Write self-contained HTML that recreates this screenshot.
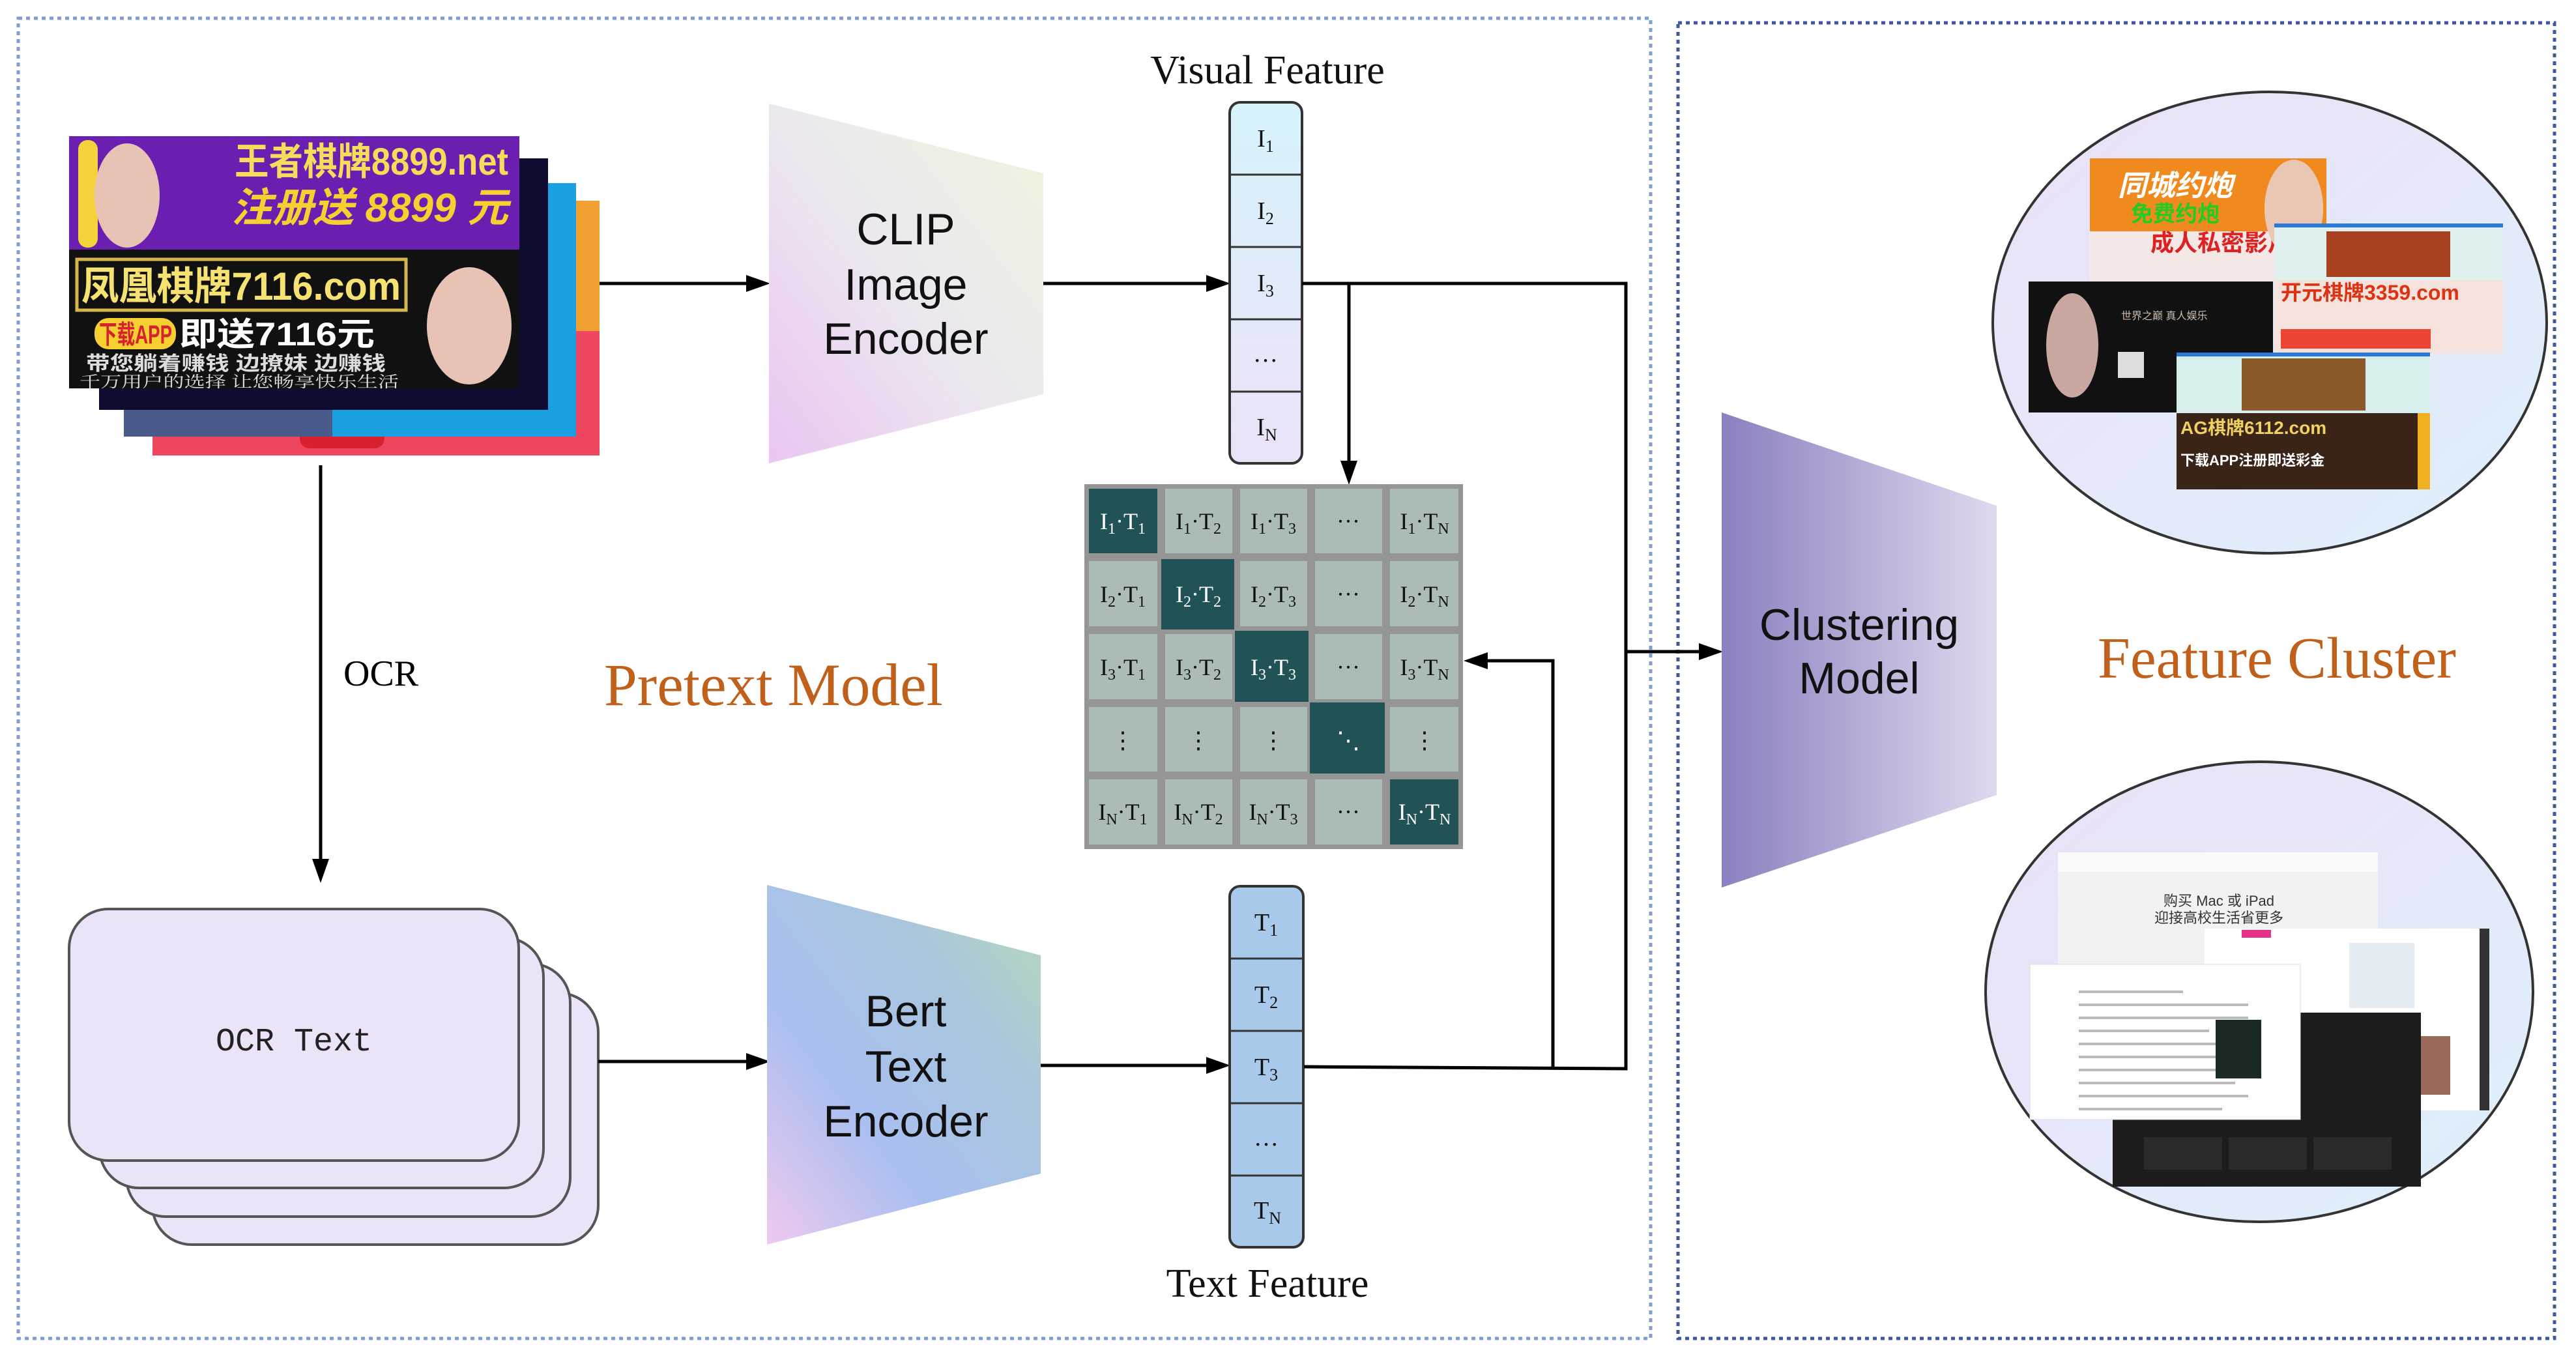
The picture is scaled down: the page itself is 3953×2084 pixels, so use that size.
<!DOCTYPE html>
<html><head><meta charset="utf-8"><style>
html,body{margin:0;padding:0;background:#fff;}
svg{display:block;}
</style></head><body>
<svg xmlns="http://www.w3.org/2000/svg" width="3953" height="2084" viewBox="0 0 3953 2084">
<defs>
<linearGradient id="gclip" x1="0" y1="1" x2="1" y2="0">
<stop offset="0" stop-color="#eac6f2"/><stop offset="0.5" stop-color="#ece8ef"/><stop offset="1" stop-color="#eef6dc"/></linearGradient>
<linearGradient id="gbert" x1="0" y1="1" x2="1" y2="0">
<stop offset="0" stop-color="#efc9ef"/><stop offset="0.35" stop-color="#a9bff0"/><stop offset="0.7" stop-color="#a9c6dc"/><stop offset="1" stop-color="#b8dcb8"/></linearGradient>
<linearGradient id="gclu" x1="0" y1="0" x2="1" y2="0">
<stop offset="0" stop-color="#8c7fbf"/><stop offset="1" stop-color="#e0d9ee"/></linearGradient>
<linearGradient id="gvis" x1="0" y1="0" x2="0" y2="1">
<stop offset="0" stop-color="#d6f3fb"/><stop offset="1" stop-color="#ebe2f7"/></linearGradient>
<linearGradient id="gell" x1="0" y1="0" x2="1" y2="1">
<stop offset="0" stop-color="#ece0f6"/><stop offset="1" stop-color="#ddf0fb"/></linearGradient>
</defs>

<rect x="28" y="28" width="2505" height="2026" fill="none" stroke="#7f9fd3" stroke-width="5" stroke-dasharray="6 6"/>
<rect x="2575" y="35" width="1345" height="2019" fill="none" stroke="#3d5aa0" stroke-width="5" stroke-dasharray="6 6"/>

<!-- ad image stack -->
<rect x="234" y="308" width="686" height="391" fill="#ef4660"/>
<rect x="860" y="308" width="60" height="200" fill="#f0a030"/>
<rect x="460" y="650" width="130" height="38" rx="15" fill="#d8202e"/>
<rect x="190" y="281" width="694" height="389" fill="#1aa0e0"/>
<rect x="190" y="560" width="320" height="110" fill="#4a5a8a"/>
<rect x="152" y="243" width="689" height="386" fill="#0e0c30"/>
<rect x="106" y="209" width="691" height="174" fill="#6a1fb0"/>
<rect x="106" y="383" width="691" height="213" fill="#111"/>
<rect x="120" y="215" width="30" height="165" rx="14" fill="#f3d23c"/>
<ellipse cx="195" cy="300" rx="50" ry="80" fill="#e8c3b5"/>
<ellipse cx="720" cy="500" rx="65" ry="90" fill="#e8c3b5"/>
<text x="360" y="268" font-family="'Liberation Sans','Noto Sans CJK SC',sans-serif" font-size="58" font-weight="bold" fill="#f5dc5a" textLength="420" lengthAdjust="spacingAndGlyphs">王者棋牌8899.net</text>
<text x="355" y="340" font-family="'Liberation Sans','Noto Sans CJK SC',sans-serif" font-size="62" font-weight="bold" font-style="italic" fill="#f5d030" textLength="425" lengthAdjust="spacingAndGlyphs">注册送 8899 元</text>
<rect x="118" y="398" width="505" height="78" fill="none" stroke="#d8b548" stroke-width="5"/>
<text x="125" y="460" font-family="'Liberation Sans','Noto Sans CJK SC',sans-serif" font-size="60" font-weight="bold" fill="#f5e270" textLength="490" lengthAdjust="spacingAndGlyphs">凤凰棋牌7116.com</text>
<rect x="145" y="488" width="125" height="48" rx="22" fill="#f5d030"/>
<text x="152" y="527" font-family="'Liberation Sans','Noto Sans CJK SC',sans-serif" font-size="40" font-weight="bold" fill="#d8202e" textLength="112" lengthAdjust="spacingAndGlyphs">下载APP</text>
<text x="275" y="530" font-family="'Liberation Sans','Noto Sans CJK SC',sans-serif" font-size="50" font-weight="bold" fill="#fff" textLength="300" lengthAdjust="spacingAndGlyphs">即送7116元</text>
<text x="132" y="568" font-family="'Liberation Sans','Noto Sans CJK SC',sans-serif" font-size="30" font-weight="bold" fill="#ddd" textLength="460" lengthAdjust="spacingAndGlyphs">带您躺着赚钱 边撩妹 边赚钱</text>
<text x="122" y="594" font-family="'Liberation Serif','Noto Serif CJK SC',serif" font-size="24" fill="#ddd" textLength="490" lengthAdjust="spacingAndGlyphs">千万用户的选择 让您畅享快乐生活</text>

<line x1="492" y1="714" x2="492" y2="1322" stroke="#000" stroke-width="5"/>
<polygon points="492,1355 479,1318 505,1318" fill="#000"/>
<text x="527" y="1052" font-family="'Liberation Serif',serif" font-size="56" fill="#000">OCR</text>

<g fill="#ebe3f8" stroke="#555" stroke-width="4">
<rect x="234" y="1524" width="684" height="386" rx="60"/>
<rect x="194" y="1479" width="681" height="388" rx="60"/>
<rect x="153" y="1439" width="681" height="384" rx="60"/>
<rect x="106" y="1395" width="690" height="386" rx="60"/>
</g>
<text x="451" y="1612" text-anchor="middle" font-family="'Liberation Mono',monospace" font-size="50" fill="#222">OCR Text</text>

<line x1="920" y1="435" x2="1150" y2="435" stroke="#000" stroke-width="5"/>
<polygon points="1182,435 1145,422 1145,448" fill="#000"/>
<line x1="918" y1="1629" x2="1150" y2="1629" stroke="#000" stroke-width="5"/>
<polygon points="1182,1629 1145,1616 1145,1642" fill="#000"/>

<polygon points="1180,159 1601,266 1601,605 1180,711" fill="url(#gclip)"/>
<g font-family="'Liberation Sans',sans-serif" font-size="68" fill="#111" text-anchor="middle">
<text x="1390" y="375">CLIP</text>
<text x="1390" y="460">Image</text>
<text x="1390" y="543">Encoder</text>
</g>
<polygon points="1177,1358 1597,1466 1597,1801 1177,1910" fill="url(#gbert)"/>
<g font-family="'Liberation Sans',sans-serif" font-size="68" fill="#111" text-anchor="middle">
<text x="1390" y="1575">Bert</text>
<text x="1390" y="1660">Text</text>
<text x="1390" y="1744">Encoder</text>
</g>

<line x1="1601" y1="435" x2="1856" y2="435" stroke="#000" stroke-width="5"/>
<polygon points="1888,435 1851,422 1851,448" fill="#000"/>
<line x1="1597" y1="1635" x2="1856" y2="1635" stroke="#000" stroke-width="5"/>
<polygon points="1888,1635 1851,1622 1851,1648" fill="#000"/>

<text x="1945" y="128" text-anchor="middle" font-family="'Liberation Serif',serif" font-size="62" fill="#111">Visual Feature</text>
<rect x="1887" y="157" width="111" height="554" rx="16" fill="url(#gvis)" stroke="#333" stroke-width="4"/>
<g stroke="#333" stroke-width="3">
<line x1="1887" y1="268" x2="1998" y2="268"/><line x1="1887" y1="379" x2="1998" y2="379"/>
<line x1="1887" y1="490" x2="1998" y2="490"/><line x1="1887" y1="601" x2="1998" y2="601"/>
</g>
<g font-family="'Liberation Serif',serif" font-size="38" fill="#111" text-anchor="middle">
<text x="1942" y="225">I<tspan font-size="26" dy="8">1</tspan></text>
<text x="1942" y="336">I<tspan font-size="26" dy="8">2</tspan></text>
<text x="1942" y="447">I<tspan font-size="26" dy="8">3</tspan></text>
<text x="1942" y="555">…</text>
<text x="1944" y="668">I<tspan font-size="26" dy="8">N</tspan></text>
</g>

<rect x="1887" y="1360" width="113" height="554" rx="16" fill="#a8c9ea" stroke="#333" stroke-width="4"/>
<g stroke="#333" stroke-width="3">
<line x1="1887" y1="1471" x2="2000" y2="1471"/><line x1="1887" y1="1582" x2="2000" y2="1582"/>
<line x1="1887" y1="1693" x2="2000" y2="1693"/><line x1="1887" y1="1804" x2="2000" y2="1804"/>
</g>
<g font-family="'Liberation Serif',serif" font-size="38" fill="#111" text-anchor="middle">
<text x="1943" y="1428">T<tspan font-size="26" dy="8">1</tspan></text>
<text x="1943" y="1539">T<tspan font-size="26" dy="8">2</tspan></text>
<text x="1943" y="1650">T<tspan font-size="26" dy="8">3</tspan></text>
<text x="1943" y="1758">…</text>
<text x="1945" y="1870">T<tspan font-size="26" dy="8">N</tspan></text>
</g>
<text x="1945" y="1990" text-anchor="middle" font-family="'Liberation Serif',serif" font-size="62" fill="#111">Text Feature</text>

<polyline points="1998,435 2495,435 2495,1640 2001,1637" fill="none" stroke="#000" stroke-width="5"/>
<line x1="2070" y1="435" x2="2070" y2="712" stroke="#000" stroke-width="5"/>
<polygon points="2070,744 2057,707 2083,707" fill="#000"/>
<polyline points="2383,1638 2383,1014 2276,1014" fill="none" stroke="#000" stroke-width="5"/>
<polygon points="2246,1014 2283,1001 2283,1027" fill="#000"/>
<line x1="2495" y1="1000" x2="2612" y2="1000" stroke="#000" stroke-width="5"/>
<polygon points="2644,1000 2607,987 2607,1013" fill="#000"/>

<rect x="1664" y="743" width="581" height="560" fill="#959595"/>
<g fill="#abbbb8">
<rect x="1788" y="750" width="103" height="99"/><rect x="1903" y="750" width="103" height="99"/><rect x="2018" y="750" width="103" height="99"/><rect x="2133" y="750" width="105" height="99"/>
<rect x="1671" y="861" width="105" height="100"/><rect x="1903" y="861" width="103" height="100"/><rect x="2018" y="861" width="103" height="100"/><rect x="2133" y="861" width="105" height="100"/>
<rect x="1671" y="973" width="105" height="100"/><rect x="1788" y="973" width="103" height="100"/><rect x="2018" y="973" width="103" height="100"/><rect x="2133" y="973" width="105" height="100"/>
<rect x="1671" y="1085" width="105" height="99"/><rect x="1788" y="1085" width="103" height="99"/><rect x="1903" y="1085" width="103" height="99"/><rect x="2133" y="1085" width="105" height="99"/>
<rect x="1671" y="1196" width="105" height="100"/><rect x="1788" y="1196" width="103" height="100"/><rect x="1903" y="1196" width="103" height="100"/><rect x="2018" y="1196" width="103" height="100"/>
</g>
<g fill="#215256">
<rect x="1671" y="750" width="105" height="99"/>
<rect x="1782" y="858" width="112" height="108"/>
<rect x="1895" y="968" width="113" height="109"/>
<rect x="2010" y="1078" width="115" height="109"/>
<rect x="2133" y="1196" width="105" height="100"/>
</g>
<g font-family="'Liberation Serif',serif" font-size="36" text-anchor="middle" fill="#111">
<text x="1723" y="812" fill="#fff">I<tspan font-size="24" dy="7">1</tspan><tspan dy="-7">·T</tspan><tspan font-size="24" dy="7">1</tspan></text>
<text x="1839" y="812">I<tspan font-size="24" dy="7">1</tspan><tspan dy="-7">·T</tspan><tspan font-size="24" dy="7">2</tspan></text>
<text x="1954" y="812">I<tspan font-size="24" dy="7">1</tspan><tspan dy="-7">·T</tspan><tspan font-size="24" dy="7">3</tspan></text>
<text x="2069" y="812">···</text>
<text x="2186" y="812">I<tspan font-size="24" dy="7">1</tspan><tspan dy="-7">·T</tspan><tspan font-size="24" dy="7">N</tspan></text>
<text x="1723" y="924">I<tspan font-size="24" dy="7">2</tspan><tspan dy="-7">·T</tspan><tspan font-size="24" dy="7">1</tspan></text>
<text x="1839" y="924" fill="#fff">I<tspan font-size="24" dy="7">2</tspan><tspan dy="-7">·T</tspan><tspan font-size="24" dy="7">2</tspan></text>
<text x="1954" y="924">I<tspan font-size="24" dy="7">2</tspan><tspan dy="-7">·T</tspan><tspan font-size="24" dy="7">3</tspan></text>
<text x="2069" y="924">···</text>
<text x="2186" y="924">I<tspan font-size="24" dy="7">2</tspan><tspan dy="-7">·T</tspan><tspan font-size="24" dy="7">N</tspan></text>
<text x="1723" y="1036">I<tspan font-size="24" dy="7">3</tspan><tspan dy="-7">·T</tspan><tspan font-size="24" dy="7">1</tspan></text>
<text x="1839" y="1036">I<tspan font-size="24" dy="7">3</tspan><tspan dy="-7">·T</tspan><tspan font-size="24" dy="7">2</tspan></text>
<text x="1954" y="1036" fill="#fff">I<tspan font-size="24" dy="7">3</tspan><tspan dy="-7">·T</tspan><tspan font-size="24" dy="7">3</tspan></text>
<text x="2069" y="1036">···</text>
<text x="2186" y="1036">I<tspan font-size="24" dy="7">3</tspan><tspan dy="-7">·T</tspan><tspan font-size="24" dy="7">N</tspan></text>
<text x="1723" y="1148">⋮</text>
<text x="1839" y="1148">⋮</text>
<text x="1954" y="1148">⋮</text>
<text x="2069" y="1148" fill="#fff">⋱</text>
<text x="2186" y="1148">⋮</text>
<text x="1723" y="1258">I<tspan font-size="24" dy="7">N</tspan><tspan dy="-7">·T</tspan><tspan font-size="24" dy="7">1</tspan></text>
<text x="1839" y="1258">I<tspan font-size="24" dy="7">N</tspan><tspan dy="-7">·T</tspan><tspan font-size="24" dy="7">2</tspan></text>
<text x="1954" y="1258">I<tspan font-size="24" dy="7">N</tspan><tspan dy="-7">·T</tspan><tspan font-size="24" dy="7">3</tspan></text>
<text x="2069" y="1258">···</text>
<text x="2186" y="1258" fill="#fff">I<tspan font-size="24" dy="7">N</tspan><tspan dy="-7">·T</tspan><tspan font-size="24" dy="7">N</tspan></text>
</g>

<text x="1187" y="1082" text-anchor="middle" font-family="'Liberation Serif',serif" font-size="92" fill="#c0601a" textLength="520" lengthAdjust="spacingAndGlyphs">Pretext Model</text>

<polygon points="2642,633 3064,776 3064,1220 2642,1362" fill="url(#gclu)"/>
<g font-family="'Liberation Sans',sans-serif" font-size="68" fill="#111" text-anchor="middle">
<text x="2853" y="982">Clustering</text>
<text x="2853" y="1064">Model</text>
</g>

<text x="3494" y="1040" text-anchor="middle" font-family="'Liberation Serif',serif" font-size="90" fill="#c0601a" textLength="550" lengthAdjust="spacingAndGlyphs">Feature Cluster</text>

<ellipse cx="3483" cy="495" rx="425" ry="354" fill="url(#gell)" stroke="#333" stroke-width="4"/>
<rect x="3207" y="243" width="363" height="189" fill="#f08a1e"/>
<rect x="3207" y="355" width="300" height="77" fill="#f3e8e6"/>
<text x="3250" y="300" font-family="'Liberation Sans','Noto Sans CJK SC',sans-serif" font-size="44" font-weight="bold" font-style="italic" fill="#fff">同城约炮</text>
<text x="3270" y="340" font-family="'Liberation Sans','Noto Sans CJK SC',sans-serif" font-size="34" font-weight="bold" fill="#2c2">免费约炮</text>
<text x="3300" y="385" font-family="'Liberation Sans','Noto Sans CJK SC',sans-serif" font-size="36" font-weight="bold" fill="#d22">成人私密影片</text>
<ellipse cx="3520" cy="320" rx="45" ry="75" fill="#e9c7b2"/>
<rect x="3490" y="343" width="351" height="200" fill="#dff0ee"/>
<rect x="3490" y="343" width="351" height="6" fill="#2a78d8"/>
<rect x="3570" y="355" width="190" height="70" fill="#a8411e"/>
<rect x="3490" y="430" width="351" height="113" fill="#f6e2dc"/>
<text x="3500" y="460" font-family="'Liberation Sans','Noto Sans CJK SC',sans-serif" font-size="32" font-weight="bold" fill="#d31">开元棋牌3359.com</text>
<rect x="3500" y="505" width="230" height="30" fill="#e43"/>
<rect x="3113" y="432" width="375" height="201" fill="#111"/>
<ellipse cx="3180" cy="530" rx="40" ry="80" fill="#c9a7a0"/>
<text x="3255" y="490" font-family="'Liberation Sans','Noto Sans CJK SC',sans-serif" font-size="16" fill="#cba">世界之巅 真人娱乐</text>
<rect x="3250" y="540" width="40" height="40" fill="#ddd"/>
<rect x="3340" y="541" width="389" height="210" fill="#d6efec"/>
<rect x="3340" y="541" width="389" height="6" fill="#2a78d8"/>
<rect x="3440" y="550" width="190" height="80" fill="#8a5a2a"/>
<rect x="3340" y="634" width="389" height="117" fill="#3a2418"/>
<text x="3346" y="666" font-family="'Liberation Sans','Noto Sans CJK SC',sans-serif" font-size="28" font-weight="bold" fill="#f0d060">AG棋牌6112.com</text>
<text x="3346" y="714" font-family="'Liberation Sans','Noto Sans CJK SC',sans-serif" font-size="22" font-weight="bold" fill="#fff">下载APP注册即送彩金</text>
<rect x="3710" y="634" width="19" height="117" fill="#f0b020"/>

<ellipse cx="3467" cy="1522" rx="420" ry="353" fill="url(#gell)" stroke="#333" stroke-width="4"/>
<rect x="3158" y="1308" width="491" height="182" fill="#f2f2f2"/>
<rect x="3158" y="1308" width="491" height="30" fill="#fafafa"/>
<text x="3405" y="1390" text-anchor="middle" font-family="'Liberation Sans','Noto Sans CJK SC',sans-serif" font-size="22" fill="#333">购买 Mac 或 iPad</text>
<text x="3405" y="1416" text-anchor="middle" font-family="'Liberation Sans','Noto Sans CJK SC',sans-serif" font-size="22" fill="#333">迎接高校生活省更多</text>
<rect x="3383" y="1425" width="437" height="279" fill="#fff"/>
<rect x="3440" y="1427" width="45" height="12" fill="#e8308a"/>
<rect x="3605" y="1447" width="100" height="100" fill="#e4ecf2"/>
<rect x="3805" y="1425" width="15" height="279" fill="#333"/>
<rect x="3700" y="1590" width="60" height="90" fill="#9a6a5a"/>
<rect x="3242" y="1554" width="473" height="267" fill="#1c1c1c"/>
<rect x="3290" y="1745" width="120" height="50" fill="#2a2a2a"/>
<rect x="3420" y="1745" width="120" height="50" fill="#2a2a2a"/>
<rect x="3550" y="1745" width="120" height="50" fill="#2a2a2a"/>
<rect x="3115" y="1480" width="415" height="238" fill="#fdfdfd" stroke="#ddd" stroke-width="1"/>
<g fill="#bbb">
<rect x="3190" y="1520" width="160" height="4"/><rect x="3190" y="1540" width="260" height="4"/>
<rect x="3190" y="1560" width="260" height="4"/><rect x="3190" y="1580" width="200" height="4"/>
<rect x="3190" y="1600" width="260" height="4"/><rect x="3190" y="1620" width="250" height="4"/>
<rect x="3190" y="1640" width="260" height="4"/><rect x="3190" y="1660" width="240" height="4"/>
<rect x="3190" y="1680" width="260" height="4"/><rect x="3190" y="1700" width="220" height="4"/>
</g>
<rect x="3400" y="1565" width="70" height="90" fill="#1a2a22"/>
</svg>
</body></html>
